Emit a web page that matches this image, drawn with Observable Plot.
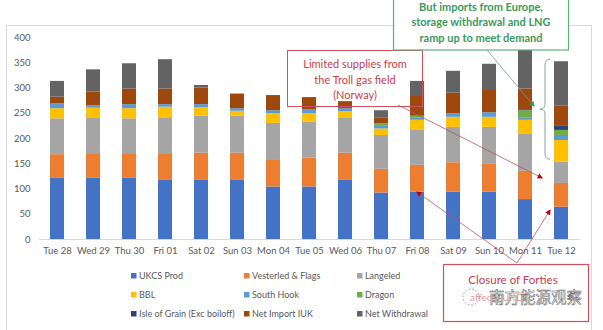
<!DOCTYPE html>
<html><head><meta charset="utf-8">
<script src="https://cdn.jsdelivr.net/npm/d3@7"></script>
<script src="https://cdn.jsdelivr.net/npm/@observablehq/plot@0.6"></script>
<style>
html,body{margin:0;padding:0;background:#fff;}
</style>
</head><body><div id="chart"></div>
<script>
const days = ["Tue 28","Wed 29","Thu 30","Fri 01","Sat 02","Sun 03","Mon 04","Tue 05","Wed 06","Thu 07","Fri 08","Sat 09","Sun 10","Mon 11","Tue 12"];
const seriesNames = ["UKCS Prod","Vesterled & Flags","Langeled","BBL","South Hook","Dragon","Isle of Grain (Exc boiloff)","Net Import IUK","Net Withdrawal"];
const seriesColors = ["#4472C4","#ED7D31","#A5A5A5","#FFC000","#5B9BD5","#70AD47","#264478","#9E480E","#636363"];
const ukcsProd      = [121,121,121,117,117,117,104,104,117,92,94,94,94,79,64];
const vesterled     = [47,49,49,53,54,54,54,57,54,47,53,58,56,56,47];
const langeled      = [71,71,69,71,73,73,72,71,70,67,69,70,72,73,42];
const bbl           = [20,19,20,21,17,10,19,17,12,13,20,20,20,28,43];
const southHook     = [10,5,8,5,6,5,6,8,6,5,4,7,9,4,10];
const dragon        = [0,0,0,0,0,0,0,0,0,5,4,0,0,15,10];
const isleOfGrain   = [0,0,0,0,0,0,0,0,0,0,0,0,0,2,8];
const netImportIUK  = [13,27,31,31,33,29,30,24,14,12,41,41,44,41,40];
const netWithdrawal = [31,44,50,58,5,0,0,0,0,14,28,43,52,87,88];
const yTicks = [0,50,100,150,200,250,300,350,400];

const seriesValues = [ukcsProd, vesterled, langeled, bbl, southHook, dragon, isleOfGrain, netImportIUK, netWithdrawal];
const data = [];
days.forEach((d, i) => seriesNames.forEach((s, j) => data.push({day: d, series: s, value: seriesValues[j][i]})));

const W = 603, H = 330;
const plot = Plot.plot({
  width: W, height: H,
  marginTop: 37, marginBottom: 91, marginLeft: 39, marginRight: 23,
  style: {fontFamily: "Lato, 'Open Sans', sans-serif", fontSize: "9.5px", color: "#595959", background: "white", overflow: "visible"},
  x: {domain: days, paddingInner: 0.61, paddingOuter: 0.3, label: null, tickSize: 0, tickPadding: 8},
  y: {domain: [0, 400], ticks: yTicks, label: null, tickSize: 0, tickPadding: 9},
  color: {domain: seriesNames, range: seriesColors},
  marks: [
    Plot.ruleY([0], {stroke: "#D9D9D9"}),
    Plot.barY(data, {x: "day", y: "value", fill: "series", order: seriesNames})
  ]
});
document.getElementById("chart").appendChild(plot);

const svg = d3.select(plot);
const xs = plot.scale("x"), ys = plot.scale("y");
const cx = d => xs.apply(d) + xs.bandwidth / 2;
const yv = v => ys.apply(v);

// chart border
svg.insert("rect", ":first-child").attr("x", 6.5).attr("y", 25.5).attr("width", 585).attr("height", 320)
  .attr("fill", "none").attr("stroke", "#D9D9D9");

// legend
const legCols = [131, 244, 357], legRows = [276, 295, 314];
const leg = svg.append("g").attr("font-family", "Lato, sans-serif").attr("font-size", "9px").attr("fill", "#595959").attr("text-anchor", "start");
seriesNames.forEach((s, i) => {
  const c = i % 3, r = Math.floor(i / 3);
  leg.append("rect").attr("x", legCols[c]).attr("y", legRows[r] - 3).attr("width", 5.5).attr("height", 5.5).attr("fill", seriesColors[i]);
  leg.append("text").attr("x", legCols[c] + 8).attr("y", legRows[r]).attr("dy", "0.35em").text(s);
});

// markers
const defs = svg.append("defs");
function marker(id, color) {
  defs.append("marker").attr("id", id).attr("viewBox", "0 0 10 10").attr("refX", 8).attr("refY", 5)
    .attr("markerWidth", 7).attr("markerHeight", 7).attr("orient", "auto-start-reverse")
    .append("path").attr("d", "M0,0 L10,5 L0,10 z").attr("fill", color);
}
marker("ar", "#C00000");
marker("ag", "#2E9E5B");

const red = "#C8404E";
// Troll box (transparent)
svg.append("rect").attr("x", 287.5).attr("y", 50.5).attr("width", 135).attr("height", 56)
  .attr("fill", "none").attr("stroke", "#D0505E").attr("stroke-width", 1);
const troll = svg.append("text").attr("font-family", "Lato, sans-serif").attr("font-size", "11px").attr("fill", red).attr("text-anchor", "middle");
["Limited supplies from", "the Troll gas field", "(Norway)"].forEach((t, i) => troll.append("tspan").attr("x", 355).attr("y", 68 + i * 15.5).text(t));
// Troll arrow to Tue 12
svg.append("line").attr("x1", 398).attr("y1", 105).attr("x2", cx("Tue 12") - 19).attr("y2", yv(121))
  .attr("stroke", "#C0505A").attr("stroke-width", 0.8).attr("marker-end", "url(#ar)");

// Closure box
svg.append("rect").attr("x", 443.5).attr("y", 264.5).attr("width", 145).attr("height", 57)
  .attr("fill", "white").attr("stroke", "#D0505E").attr("stroke-width", 1.2);
svg.append("text").attr("x", 513).attr("y", 284).attr("font-family", "Lato, sans-serif").attr("font-size", "11.5px").attr("fill", red).attr("text-anchor", "middle").text("Closure of Forties");
svg.append("text").attr("x", 470).attr("y", 301).attr("font-family", "Lato, sans-serif").attr("font-size", "10px").attr("fill", red).attr("opacity", 0.55).attr("text-anchor", "start").text("affects UKCS");
// closure arrows
const meet = [517, 263];
svg.append("line").attr("x1", meet[0]).attr("y1", meet[1]).attr("x2", cx("Fri 08")).attr("y2", yv(93))
  .attr("stroke", "#C0505A").attr("stroke-width", 0.8).attr("marker-end", "url(#ar)");
svg.append("line").attr("x1", meet[0]).attr("y1", meet[1]).attr("x2", cx("Tue 12") - 11).attr("y2", yv(57))
  .attr("stroke", "#C0505A").attr("stroke-width", 0.8).attr("marker-end", "url(#ar)");
// watermark
svg.append("circle").attr("cx", 471).attr("cy", 297).attr("r", 8).attr("fill", "none").attr("stroke", "#aaa").attr("stroke-dasharray", "2,1.5");
svg.append("text").attr("x", 489).attr("y", 303).attr("font-family", "'Noto Sans CJK SC', sans-serif").attr("font-size", "15.5px").attr("text-anchor", "start")
  .attr("fill", "#f4f4f4").attr("stroke", "#555").attr("stroke-width", 0.45).attr("paint-order", "fill").text("南方能源观察");

// green box
const green = "#3A9A5C";
svg.append("rect").attr("x", 393.5).attr("y", -1).attr("width", 175).attr("height", 51)
  .attr("fill", "white").attr("stroke", "#5CB07C").attr("stroke-width", 1.2);
const gt = svg.append("text").attr("font-family", "Lato, sans-serif").attr("font-size", "11px").attr("font-weight", "bold").attr("fill", green).attr("text-anchor", "middle");
["But imports from Europe,", "storage withdrawal and LNG", "ramp up to meet demand"].forEach((t, i) => gt.append("tspan").attr("x", 481).attr("y", 10.5 + i * 15.5).text(t));
// green arrow
svg.append("line").attr("x1", 487).attr("y1", 50).attr("x2", 534).attr("y2", 106)
  .attr("stroke", "#7E9A8A").attr("stroke-width", 0.8).attr("marker-end", "url(#ag)");
// brace
const bx = cx("Tue 12") - 20, braceTop = yv(356), braceBot = yv(158), braceMid = (braceTop + braceBot) / 2;
svg.append("path").attr("fill", "none").attr("stroke", "#7E9A8A").attr("stroke-width", 0.9)
  .attr("d", `M${bx + 9},${braceTop} Q${bx + 4},${braceTop} ${bx + 4},${braceTop + 6} L${bx + 4},${braceMid - 5} Q${bx + 4},${braceMid} ${bx - 1},${braceMid} Q${bx + 4},${braceMid} ${bx + 4},${braceMid + 5} L${bx + 4},${braceBot - 6} Q${bx + 4},${braceBot} ${bx + 9},${braceBot}`);
</script>
</body></html>
